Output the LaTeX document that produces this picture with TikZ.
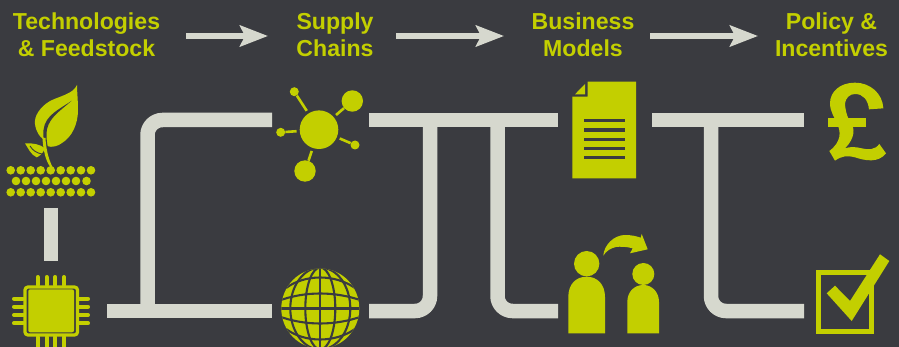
\documentclass[tikz,border=0pt]{standalone}
\usepackage{fontspec}
\setmainfont{Liberation Sans}
\usetikzlibrary{arrows.meta}
\definecolor{slate}{HTML}{3A3B40}
\definecolor{lime}{HTML}{C3CF00}
\definecolor{pipegrey}{HTML}{D6D8CE}
\tikzset{
	heading/.style={text=lime, font=\fontsize{23.1}{27}\selectfont\bfseries, align=center, inner sep=0pt},
	flowarrow/.style={draw=pipegrey, line width=5.5pt, -{Stealth[length=28pt,width=21pt,inset=5pt,fill=pipegrey]}},
	pipe/.style={draw=pipegrey, line width=14.5pt, rounded corners=15pt},
	pinline/.style={draw=lime, line width=4pt, line cap=round},
	hubdot/.style={circle, fill=lime, inner sep=0pt, minimum size=#1},
	hublink/.style={draw=lime, line width=2.6pt, shorten >=3pt},
	gridline/.style={draw=slate, line width=2.1pt}
}
\begin{document}
\begin{tikzpicture}[x=1pt,y=-1pt]
	\useasboundingbox (0,0) rectangle (899,347);
	\clip (0,0) rectangle (899,347);
	\fill[slate] (0,0) rectangle (899,347);
	% Headings
	\node[heading] (tech) at (86.5,34.5) {Technologies\\\& Feedstock};
	\node[heading] (supply) at (335,34.5) {Supply\\Chains};
	\node[heading] (business) at (583,34.5) {Business\\Models};
	\node[heading] (policy) at (831.5,34.5) {Policy \&\\Incentives};
	% Heading arrows
	\coordinate (a1s) at (186,36); \coordinate (a1e) at (268,36);
	\coordinate (a2s) at (396,36); \coordinate (a2e) at (504,36);
	\coordinate (a3s) at (650,36); \coordinate (a3e) at (758,36);
	\draw[flowarrow] (a1s) -- (a1e);
	\draw[flowarrow] (a2s) -- (a2e);
	\draw[flowarrow] (a3s) -- (a3e);
	% Pipes
	\coordinate (p1top) at (272,120); \coordinate (p1corner) at (147.5,120); \coordinate (p1foot) at (147.5,311);
	\coordinate (p1left) at (107,311); \coordinate (p1right) at (272,311);
	\draw[pipe] (p1top) -- (p1corner) -- (p1foot);
	\draw[pipe] (p1left) -- (p1right);
	\coordinate (p2left) at (369,120); \coordinate (p2right) at (558,120);
	\coordinate (p2a) at (430,120); \coordinate (p2b) at (497.5,120);
	\coordinate (p2c) at (430,311); \coordinate (p2d) at (497.5,311);
	\coordinate (p2e) at (369,311); \coordinate (p2f) at (558,311);
	\draw[pipe] (p2left) -- (p2right);
	\draw[pipe] (p2a) -- (p2c) -- (p2e);
	\draw[pipe] (p2b) -- (p2d) -- (p2f);
	\coordinate (p3left) at (652,120); \coordinate (p3right) at (804,120);
	\coordinate (p3a) at (711,120); \coordinate (p3c) at (711,311); \coordinate (p3e) at (804,311);
	\draw[pipe] (p3left) -- (p3right);
	\draw[pipe] (p3a) -- (p3c) -- (p3e);
	% Bar between leaf and chip
	\coordinate (bartop) at (51,208); \coordinate (barfoot) at (51,261);
	\draw[pipegrey, line width=14pt] (bartop) -- (barfoot);
	% Leaf
	\fill[lime] (77,85) .. controls (73,94) and (60,96) .. (50,101)
		.. controls (40,107) and (34,116) .. (35,124)
		.. controls (36,132) and (40,137) .. (43,139)
		.. controls (45,143) and (46,146) .. (47,146)
		.. controls (52,148) and (58,146) .. (62,143)
		.. controls (72,137) and (78,124) .. (78,110)
		.. controls (78,100) and (77,92) .. (77,85) -- cycle;
	\fill[slate] (71.7,100.7) .. controls (60,109) and (45,115) .. (43.5,130)
		.. controls (43,137) and (44,143) .. (45,148) -- (48,148)
		.. controls (46.5,141) and (46,135) .. (47,129)
		.. controls (50,117) and (60,111) .. (71.7,100.7) -- cycle;
	\fill[lime] (42.5,138) .. controls (43,150) and (46,162) .. (50.5,167) -- (52.5,167)
		.. controls (48,158) and (46,148) .. (45.5,138) -- cycle;
	\fill[lime] (25,143.3) .. controls (32,143) and (40,144) .. (45,148.3)
		.. controls (43,154) and (38,157) .. (36.7,157.3)
		.. controls (31,155) and (28,148) .. (25,143.3) -- cycle;
	\draw[slate, line width=0.9pt] (30,146) .. controls (33,151) and (37,153) .. (42,154);
	% Seed rows
	\foreach \x in {10.7,20.7,30.7,40.7,50.7,60.7,70.7,81,91} {
		\fill[lime] (\x,170.3) circle (4.3pt);
		\fill[lime] (\x,192.3) circle (4.3pt);
	}
	\foreach \x in {16,26,36,46,56,66,76,86.5}
		\fill[lime] (\x,181) circle (4.3pt);
	% Chip
	\draw[lime, line width=3.2pt, rounded corners=3pt] (25,287) rectangle (77.5,335);
	\fill[lime, rounded corners=2pt] (28.3,289.3) rectangle (74,332.3);
	\foreach \x in {37.7,46.7,55.3,64} {
		\draw[pinline] (\x,277) -- (\x,285);
		\draw[pinline] (\x,337) -- (\x,349);
	}
	\foreach \y in {298.7,306.7,315,323.3} {
		\draw[pinline] (14,\y) -- (23,\y);
		\draw[pinline] (79,\y) -- (88,\y);
	}
	% Hub
	\node[hubdot=38.6pt] (hub) at (319,129.7) {};
	\node[hubdot=9pt] (hubA) at (294.3,91.7) {};
	\node[hubdot=21.4pt] (hubB) at (352.3,101) {};
	\node[hubdot=9pt] (hubC) at (280.7,132.3) {};
	\node[hubdot=9pt] (hubD) at (355,145) {};
	\node[hubdot=21.4pt] (hubE) at (305,171) {};
	\foreach \sat in {hubA,hubB,hubC,hubD,hubE}
		\draw[hublink] (\sat) -- (hub);
	% Globe
	\begin{scope}
		\clip (320.3,308.5) ellipse [x radius=39pt, y radius=40pt];
		\fill[lime] (281,268) rectangle (360,349);
		\draw[gridline] (320.3,268) -- (320.3,349);
		\draw[gridline] (281,308.5) -- (360,308.5);
		\foreach \r in {15,30}
			\draw[gridline] (320.3,308.5) ellipse [x radius=\r pt, y radius=41pt];
		\draw[gridline] (278,301) .. controls (305,291) and (335,291) .. (363,301);
		\draw[gridline] (278,316) .. controls (305,326) and (335,326) .. (363,316);
		\draw[gridline] (286,288) .. controls (305,274) and (335,274) .. (355,288);
		\draw[gridline] (286,329) .. controls (305,343) and (335,343) .. (355,329);
	\end{scope}
	% Document
	\fill[lime] (587.7,81.7) -- (636,81.7) -- (636,178.3) -- (572.3,178.3) -- (572.3,96.7) -- (587.7,96.7) -- cycle;
	\fill[lime] (585,84) -- (585,94.3) -- (575,94.3) -- cycle;
	\foreach \y in {120.7,130,139.3,148.7,157.3}
		\fill[slate] (584,\y-1.7) rectangle (625,\y+1.7);
	% People
	\fill[lime] (586.7,263.7) circle (12.7pt);
	\fill[lime] (568.3,333.3) -- (568.3,297) .. controls (568.3,284) and (576,276.7) .. (586.7,276.7)
		.. controls (597,276.7) and (605,284) .. (605,297) -- (605,333.3) -- cycle;
	\fill[lime] (643.3,274) circle (11pt);
	\fill[lime] (627.3,333.3) -- (627.3,302) .. controls (627.3,292) and (634,285) .. (643.3,285)
		.. controls (652,285) and (659,292) .. (659,302) -- (659,333.3) -- cycle;
	\fill[lime] (603.3,255.7) .. controls (604,245) and (614,235) .. (625,235)
		.. controls (631,235) and (636,236) .. (640.7,237.7) -- (641.7,234) -- (647.7,249.3) -- (630,253.3) -- (632.7,248.3)
		.. controls (626,246.5) and (620,246.5) .. (616,247) .. controls (611,248) and (606,251) .. (603.3,255.7) -- cycle;
	% Pound
	\begin{scope}[shift={(800,70)},x=0.3333pt,y=-0.3333pt]
		\fill[lime] (250,115) .. controls (248,70) and (210,38) .. (165,38)
			.. controls (120,38) and (90,65) .. (90,100)
			.. controls (90,125) and (105,145) .. (113,165)
			.. controls (122,185) and (125,215) .. (88,243)
			-- (105,272) .. controls (125,258) and (140,256) .. (165,262)
			.. controls (195,272) and (235,280) .. (258,250)
			-- (238,222) .. controls (225,240) and (205,240) .. (185,235)
			.. controls (165,230) and (150,230) .. (135,235)
			.. controls (165,205) and (165,175) .. (153,160)
			.. controls (140,140) and (135,115) .. (135,100)
			.. controls (137,85) and (148,72) .. (165,72)
			.. controls (190,72) and (204,90) .. (207,118) -- cycle;
		\fill[lime] (85,145) rectangle (197,172);
	\end{scope}
	% Tick box
	\draw[lime, line width=5pt] (818.5,272.5) rectangle (871.5,331);
	\fill[lime] (826.7,293.3) -- (835,285.7) -- (850,301) -- (880,254.3) -- (889.3,261) -- (851.7,321) -- cycle;
\end{tikzpicture}
\end{document}
